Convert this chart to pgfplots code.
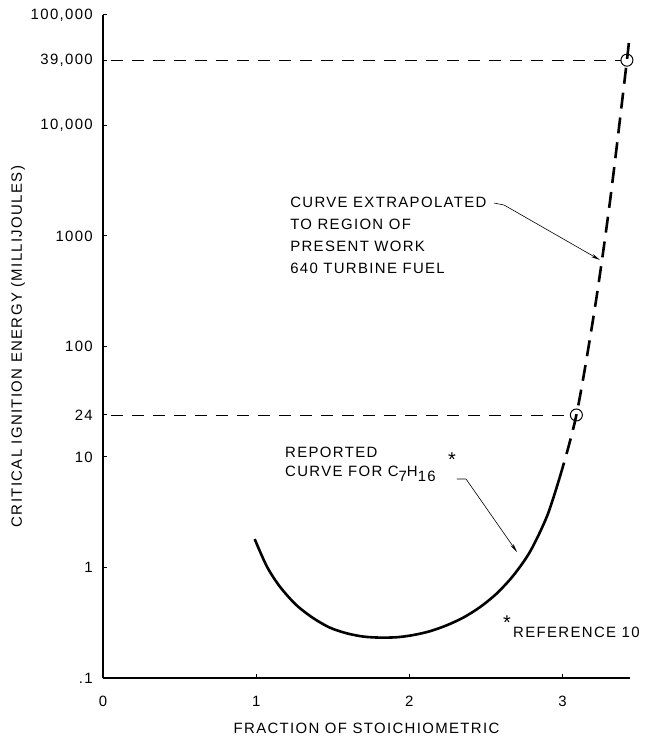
\documentclass[border=0pt]{standalone}
\usepackage{fontspec}
\setmainfont{Liberation Sans}[LetterSpace=9]
\usepackage{pgfplots}
\pgfplotsset{compat=1.18}
\usetikzlibrary{arrows.meta}
\begin{document}
\begin{tikzpicture}
\useasboundingbox (-103bp,-63bp) rectangle (545bp,678bp);
\begin{axis}[
 at={(0,0)}, anchor=south west,
 scale only axis, width=527bp, height=663bp,
 ymode=log, xmin=0, xmax=3.44, ymin=0.1, ymax=100000,
 axis x line*=bottom, axis y line*=left,
 axis line style={line width=1.2bp, -},
 xtick={0,1,2,3}, xticklabels={0,1,2,3},
 ytick={0.1,1,10,24,100,1000,10000,39000,100000},
 yticklabels={.1,1,10,24,100,1000,{10,000},{39,000},{100,000}},
 yminorticks=false, xminorticks=false,
 tick align=inside, major tick length=4bp, tick style={line width=1bp, black},
 font=\fontsize{15}{18}\selectfont,
 yticklabel style={anchor=east, inner sep=0pt, xshift=-10bp},
 xticklabel style={anchor=north, inner sep=0pt, yshift=-18bp},
 clip=false,
]
% reported curve (solid)
\addplot[line width=2.6bp, smooth] coordinates {
 (0.99,1.81) (1.07,1.02) (1.155,0.67) (1.26,0.46) (1.37,0.35) (1.48,0.286)
 (1.59,0.254) (1.70,0.237) (1.81,0.232) (1.92,0.234) (2.02,0.244) (2.13,0.264)
 (2.24,0.2985) (2.35,0.351) (2.46,0.437) (2.57,0.582) (2.68,0.851) (2.79,1.41)
 (2.90,2.95) (2.98,6.46)
};
% extrapolated curve (dashed)
\addplot[line width=2.6bp, smooth, dash pattern=on 16bp off 9bp] coordinates {
 (2.98,6.46) (3.09,24) (3.21,220) (3.31,2090) (3.42,39000) (3.435,63000)
};
% horizontal reference lines
\addplot[line width=0.8bp, dash pattern=on 12bp off 9bp] coordinates {(0.05,24) (3.05,24)};
\addplot[line width=0.8bp, dash pattern=on 12bp off 9bp] coordinates {(0.05,39000) (3.38,39000)};
% open circles
\addplot[only marks, mark=o, mark size=6bp, mark options={line width=1bp, fill=white}] coordinates {(3.09,24) (3.42,39000)};

% axis labels
\node[xshift=-85bp, rotate=90, anchor=center] at (rel axis cs:0,0.5) {CRITICAL IGNITION ENERGY (MILLIJOULES)};
\node[yshift=-50bp, anchor=center] at (rel axis cs:0.5,0) {FRACTION OF STOICHIOMETRIC};

% annotation 1
\node[anchor=north west, align=left, inner sep=0pt, font=\fontsize{15}{22}\selectfont] at (rel axis cs:0.355,0.7255) {CURVE EXTRAPOLATED\\TO REGION OF\\PRESENT WORK\\640 TURBINE FUEL};
\draw[line width=0.6bp, -{Stealth[length=9bp,width=3.5bp]}] (rel axis cs:0.742,0.7164) -- (rel axis cs:0.761,0.7134) -- (rel axis cs:0.943,0.6305);

% annotation 2
\node[anchor=north west, align=left, inner sep=0pt, font=\fontsize{15}{19}\selectfont] at (rel axis cs:0.3454,0.3484) {REPORTED\\CURVE FOR C\raisebox{-5bp}{7}H\raisebox{-5bp}{16}};
\node[anchor=center, inner sep=0pt, font=\fontsize{20}{20}\selectfont] at (rel axis cs:0.6622,0.3300) {*};
\draw[line width=0.6bp, -{Stealth[length=9bp,width=3.5bp]}] (rel axis cs:0.6717,0.3002) -- (rel axis cs:0.6888,0.3002) -- (rel axis cs:0.7856,0.1900);

% annotation 3
\node[anchor=west, inner sep=0pt] at (rel axis cs:0.778,0.0694) {REFERENCE 10};
\node[anchor=center, inner sep=0pt, font=\fontsize{20}{20}\selectfont] at (rel axis cs:0.7666,0.0830) {*};
\end{axis}
\end{tikzpicture}
\end{document}
